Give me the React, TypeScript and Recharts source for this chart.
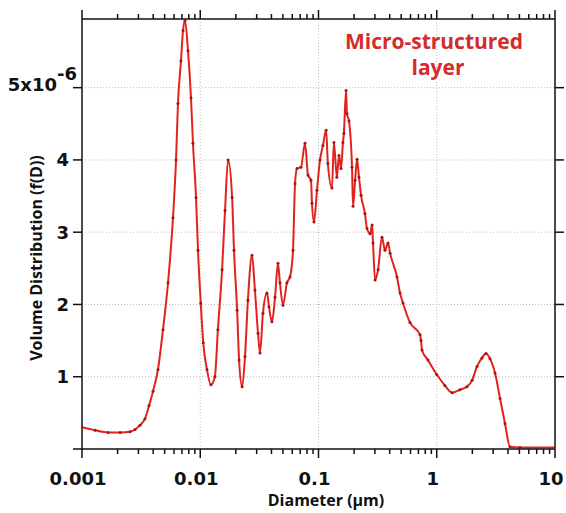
import React from 'react';
import { LineChart, Line, XAxis, YAxis, ReferenceLine } from 'recharts';

// diameters in µm, volume distribution in units of 1e-6
const diameters = [
  0.001, 0.00129, 0.00166, 0.0021, 0.00255, 0.00281, 0.00309, 0.00341, 0.00369, 0.00399,
  0.00439, 0.00484, 0.00534, 0.00588, 0.00624, 0.00648, 0.00687, 0.00715, 0.00743, 0.00788,
  0.00835, 0.00868, 0.00921, 0.00957, 0.0101, 0.0106, 0.0114, 0.0123, 0.0133, 0.0141,
  0.0153, 0.0162, 0.0172, 0.0186, 0.0193, 0.0205, 0.0213, 0.0226, 0.0239, 0.0253,
  0.0274, 0.029, 0.0308, 0.032, 0.0339, 0.0367, 0.0381, 0.0404, 0.0429, 0.0454,
  0.0472, 0.0501, 0.0541, 0.0574, 0.0609, 0.0633, 0.0658, 0.0711, 0.0769, 0.0815,
  0.0864, 0.0881, 0.0916, 0.0971, 0.103, 0.109, 0.116, 0.12, 0.13, 0.135,
  0.143, 0.149, 0.155, 0.161, 0.164, 0.171, 0.174, 0.181, 0.192, 0.196,
  0.204, 0.212, 0.22, 0.229, 0.247, 0.257, 0.273, 0.284, 0.289, 0.301,
  0.319, 0.344, 0.365, 0.387, 0.403, 0.461, 0.489, 0.518, 0.594, 0.722,
  0.736, 0.75, 0.843, 1.0, 1.17, 1.35, 1.57, 1.8, 1.99, 2.19,
  2.41, 2.61, 2.82, 3.11, 3.43, 3.78, 4.16, 5.06, 10,
];
const volumes = [
  0.3, 0.26, 0.23, 0.23, 0.24, 0.27, 0.33, 0.42, 0.6, 0.8,
  1.1, 1.65, 2.3, 3.2, 4.0, 4.78, 5.37, 5.79, 5.93, 5.51,
  4.86, 4.23, 3.48, 2.75, 2.02, 1.47, 1.1, 0.89, 1.0, 1.65,
  2.48, 3.3, 4.0, 3.48, 2.75, 1.92, 1.23, 0.86, 1.28, 2.06,
  2.68, 2.2, 1.6, 1.33, 1.88, 2.16, 1.97, 1.76, 2.1, 2.57,
  2.3, 1.99, 2.3, 2.38, 2.75, 3.67, 3.88, 3.9, 4.23, 3.79,
  3.72, 3.4, 3.14, 3.58, 4.0, 4.2, 4.41, 3.95, 3.61, 4.24,
  3.76, 4.06, 3.88, 4.24, 4.37, 4.96, 4.64, 4.54, 3.9, 3.36,
  3.72, 4.01, 3.76, 3.51, 3.26, 3.05, 2.98, 3.1, 2.85, 2.34,
  2.48, 2.93, 2.75, 2.85, 2.71, 2.38, 2.16, 2.02, 1.75, 1.58,
  1.5, 1.37, 1.23, 1.03, 0.88, 0.78, 0.82, 0.86, 0.95, 1.14,
  1.26, 1.32, 1.25, 1.05, 0.7, 0.35, 0.03, 0.02, 0.02,
];
const data = diameters.map((d, i) => ({ d, v: volumes[i] }));

const majorTicks = [0.001, 0.01, 0.1, 1, 10];
const majorLabels = ['0.001', '0.01', '0.1', '1', '10'];
const minorSteps = [1, 2, 3, 4, 5, 6, 7, 8, 9];
const xTicks = majorTicks.slice(0, -1).flatMap((m) => minorSteps.map((k) => k * m)).concat([10]);
const yTicks = [0, 1, 2, 3, 4, 5];
const yGrid = [1, 2, 3, 4, 5];
const xGrid = [0.01, 0.1, 1];

const tickFont = { fontFamily: 'DejaVu Sans', fontWeight: 700, fontSize: 18, fill: '#111' };
const titleFont = { fontFamily: 'Open Sans', fontWeight: 700, fill: '#111' };

const majorIndex = (v: number) => majorTicks.findIndex((m) => Math.abs(v / m - 1) < 1e-6);

const BottomTick = (props: any) => {
  const { x, y, payload } = props;
  const i = majorIndex(payload.value);
  return (
    <g>
      <line x1={x} x2={x} y1={y} y2={y + (i >= 0 ? 9 : 5)} stroke="#111" strokeWidth={1.5} />
      {i >= 0 && (
        <text x={x - 4} y={y + 36} textAnchor="middle" style={tickFont}>
          {majorLabels[i]}
        </text>
      )}
    </g>
  );
};

const TopTick = (props: any) => {
  const { x, y, payload } = props;
  const i = majorIndex(payload.value);
  return <line x1={x} x2={x} y1={y} y2={y - (i >= 0 ? 9 : 5)} stroke="#111" strokeWidth={1.5} />;
};

const LeftTick = (props: any) => {
  const { x, y, payload } = props;
  const v = payload.value;
  return (
    <g>
      <line x1={x} x2={x - 9} y1={y} y2={y} stroke="#111" strokeWidth={1.5} />
      {v > 0 && v < 5 && (
        <text x={x - 13} y={y + 6.5} textAnchor="end" style={tickFont}>
          {v}
        </text>
      )}
      {v === 5 && (
        <g>
          <text x={x - 25} y={y + 3} textAnchor="end" style={tickFont}>
            5x10
          </text>
          <text x={x - 25} y={y - 8} textAnchor="start" style={tickFont}>
            -6
          </text>
        </g>
      )}
    </g>
  );
};

const RightTick = (props: any) => {
  const { x, y } = props;
  return <line x1={x} x2={x + 9} y1={y} y2={y} stroke="#111" strokeWidth={1.5} />;
};

export default function App() {
  return (
    <div style={{ position: 'absolute', left: 0, top: 0, width: 566, height: 513, background: '#fff' }}>
      <LineChart width={566} height={513} data={data} margin={{ top: 0, right: 0, bottom: 0, left: 0 }}>
        <XAxis
          xAxisId="b"
          dataKey="d"
          type="number"
          scale="log"
          domain={[0.001, 10]}
          ticks={xTicks}
          interval={0}
          tickSize={0}
          tickMargin={0}
          tickLine={false}
          tick={BottomTick}
          axisLine={{ stroke: '#111', strokeWidth: 1.5 }}
          height={64}
          allowDataOverflow
        />
        <XAxis
          xAxisId="t"
          orientation="top"
          dataKey="d"
          type="number"
          scale="log"
          domain={[0.001, 10]}
          ticks={xTicks}
          interval={0}
          tickSize={0}
          tickMargin={0}
          tickLine={false}
          tick={TopTick}
          axisLine={{ stroke: '#111', strokeWidth: 1.5 }}
          height={19}
          allowDataOverflow
        />
        <YAxis
          yAxisId="l"
          type="number"
          domain={[0, 5.95]}
          ticks={yTicks}
          interval={0}
          tickSize={0}
          tickMargin={0}
          tickLine={false}
          tick={LeftTick}
          axisLine={{ stroke: '#111', strokeWidth: 1.5 }}
          width={82}
          allowDataOverflow
        />
        <YAxis
          yAxisId="r"
          orientation="right"
          type="number"
          domain={[0, 5.95]}
          ticks={yGrid}
          interval={0}
          tickSize={0}
          tickMargin={0}
          tickLine={false}
          tick={RightTick}
          axisLine={{ stroke: '#111', strokeWidth: 1.5 }}
          width={11}
          allowDataOverflow
        />
        {yGrid.map((v) => (
          <ReferenceLine key={'h' + v} xAxisId="b" yAxisId="l" y={v} stroke="#bdbdbd" strokeDasharray="1 2" />
        ))}
        {xGrid.map((v) => (
          <ReferenceLine key={'v' + v} xAxisId="b" yAxisId="l" x={v} stroke="#bdbdbd" strokeDasharray="1 2" />
        ))}
        <Line
          xAxisId="b"
          yAxisId="l"
          dataKey="v"
          type="monotoneX"
          stroke="#e2231d"
          strokeWidth={2}
          dot={{ r: 1.5, fill: '#9e1818', stroke: 'none' }}
          activeDot={false}
          isAnimationActive={false}
        />
      </LineChart>
      <svg width={566} height={513} style={{ position: 'absolute', left: 0, top: 0, pointerEvents: 'none' }}>
        <text x={434} y={49} textAnchor="middle" style={{ ...titleFont, fontSize: 21, fill: '#d42b2b' }}>
          Micro-structured
        </text>
        <text x={438} y={75} textAnchor="middle" style={{ ...titleFont, fontSize: 21, fill: '#d42b2b' }}>
          layer
        </text>
        <text x={326} y={506} textAnchor="middle" style={{ ...titleFont, fontSize: 16 }}>
          Diameter (µm)
        </text>
        <text
          x={0}
          y={0}
          textAnchor="middle"
          transform="translate(42 258) rotate(-90)"
          style={{ ...titleFont, fontSize: 16 }}
        >
          Volume Distribution (f(D))
        </text>
      </svg>
    </div>
  );
}
